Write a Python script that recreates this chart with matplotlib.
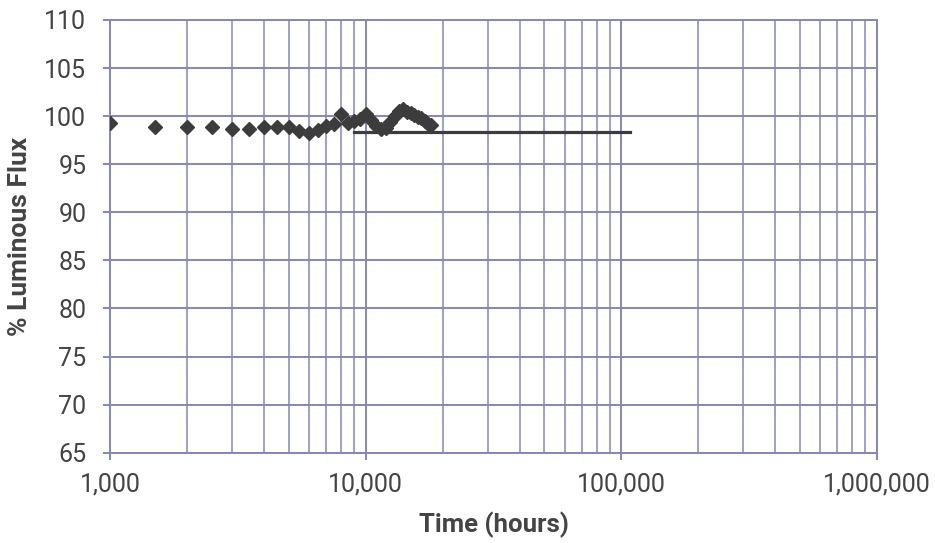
import matplotlib
matplotlib.use("Agg")
import matplotlib.pyplot as plt
import matplotlib.ticker as mticker

# ── Données ─────────────────────────────────────────────────────────────────
hours = [1000, 1500, 2000, 2500, 3000, 3500, 4000, 4500, 5000, 5500,
         6000, 6500, 7000, 7500, 8000, 8500, 9000, 9500, 10000, 10500,
         11000, 11500, 12000, 12500, 13000, 13500, 14000, 14500, 15000,
         15500, 16000, 16500, 17000, 17500, 18000]
flux = [99.3, 98.85, 98.85, 98.85, 98.7, 98.7, 98.9, 98.9, 98.85, 98.5,
        98.25, 98.6, 98.95, 99.2, 100.2, 99.3, 99.5, 99.7, 100.2, 99.6,
        99.0, 98.7, 98.8, 99.4, 100.0, 100.5, 100.7, 100.4, 100.3,
        100.1, 99.9, 99.8, 99.5, 99.2, 99.1]

proj_hours = [9000, 108000]
proj_flux = [98.35, 98.35]

y_ticks = [65, 70, 75, 80, 85, 90, 95, 100, 105, 110]
x_ticks = [1000, 10000, 100000, 1000000]

GRID = "#8585c2"
INK = "#3c3c3c"
TXT = "#444444"

plt.rcParams["font.family"] = ["Roboto", "DejaVu Sans"]

fig = plt.figure(figsize=(9.35, 5.43), dpi=100)
ax = fig.add_axes([0.1176, 0.1663, 0.9380 - 0.1176, 0.9632 - 0.1663])

ax.plot(hours, flux, linestyle="none", marker="D", markersize=7,
        color=INK, zorder=3)
ax.plot(proj_hours, proj_flux, color=INK, linewidth=2.3, zorder=3)

ax.set_xscale("log")
ax.set_xlim(1000, 1000000)
ax.set_ylim(65, 110)
ax.set_yticks(y_ticks)
ax.set_xticks(x_ticks)
ax.xaxis.set_major_formatter(mticker.FuncFormatter(lambda v, p: f"{v:,.0f}"))
ax.xaxis.set_minor_locator(mticker.LogLocator(base=10, subs=range(2, 10)))
ax.xaxis.set_minor_formatter(mticker.NullFormatter())

ax.grid(True, which="major", color=GRID, linewidth=1.4)
ax.grid(True, which="minor", axis="x", color=GRID, linewidth=1.1)
ax.set_axisbelow(True)
for s in ax.spines.values():
    s.set_color(GRID)
    s.set_linewidth(1.4)

ax.tick_params(axis="both", which="major", length=5, width=1.4, color=GRID,
               labelsize=18, labelcolor=TXT)
ax.tick_params(axis="x", which="major", pad=9)
ax.tick_params(axis="y", which="major", pad=12)
ax.tick_params(axis="x", which="minor", length=0)

ax.set_xlabel("Time (hours)", fontsize=18.5, fontweight="bold", color=TXT)
ax.set_ylabel("% Luminous Flux", fontsize=19, fontweight="bold", color=TXT)
ax.xaxis.set_label_coords(0.5, -0.137)
ax.yaxis.set_label_coords(-0.102, 0.5)

fig.savefig("out.png", dpi=100)
